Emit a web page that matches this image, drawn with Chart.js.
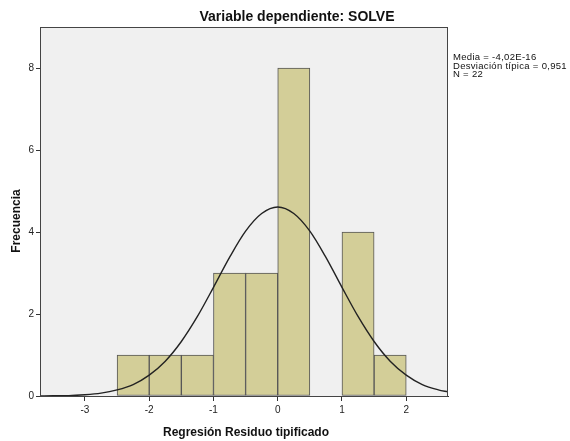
<!DOCTYPE html>
<html>
<head>
<meta charset="utf-8">
<script src="https://cdn.jsdelivr.net/npm/chart.js@4"></script>
<style>
  html, body { margin: 0; padding: 0; background: #fff; }
  #wrap { width: 570px; height: 441px; }
</style>
</head>
<body>
<div id="wrap"><canvas id="histChart" width="570" height="441"></canvas></div>
<script>
// Histogram bins (centre of each 0.5 wide bin) and counts
const binCenters = [-2.25, -1.75, -1.25, -0.75, -0.25, 0.25, 0.75, 1.25, 1.75];
const binCounts  = [1, 1, 1, 3, 3, 8, 0, 4, 1];

// Normal curve
const curveX = [-3.7, -3.5, -3.25, -3, -2.75, -2.5, -2.25, -2, -1.75, -1.5, -1.25, -1, -0.75, -0.5, -0.25,
                0, 0.25, 0.5, 0.75, 1, 1.25, 1.5, 1.75, 2, 2.25, 2.5, 2.65];
const curveY = [0.00, 0.01, 0.01, 0.03, 0.07, 0.15, 0.28, 0.51, 0.85, 1.33, 1.94, 2.65, 3.38, 4.02, 4.45,
                4.61, 4.45, 4.02, 3.38, 2.65, 1.94, 1.33, 0.85, 0.51, 0.28, 0.15, 0.10];

const xTicks = [-3, -2, -1, 0, 1, 2];
const yTicks = [0, 2, 4, 6, 8];

const titleText = 'Variable dependiente: SOLVE';
const xTitle = 'Regresión Residuo tipificado';
const yTitle = 'Frecuencia';
const statsLines = ['Media = -4,02E-16', 'Desviación típica = 0,951', 'N = 22'];

const FONT = '"Liberation Sans", Arial, sans-serif';

// background of plot area, frame and the texts
const decorPlugin = {
    id: 'decor',
    beforeDraw(chart) {
        const { ctx, chartArea: a } = chart;
        ctx.save();
        ctx.fillStyle = '#f0f0f0';
        ctx.fillRect(a.left, a.top, a.right - a.left, a.bottom - a.top);
        ctx.restore();
    },
    afterDraw(chart) {
        const { ctx, chartArea: a } = chart;
        ctx.save();
        ctx.strokeStyle = '#444';
        ctx.lineWidth = 1;
        ctx.strokeRect(a.left + 0.5, a.top + 0.5, a.right - a.left - 1, a.bottom - a.top);

        ctx.fillStyle = '#111';
        ctx.textAlign = 'center';
        ctx.textBaseline = 'alphabetic';
        ctx.font = 'bold 14px ' + FONT;
        ctx.fillText(titleText, 297, 21);

        ctx.font = 'bold 12px ' + FONT;
        ctx.fillText(xTitle, 246, 436);

        ctx.save();
        ctx.translate(20, 221);
        ctx.rotate(-Math.PI / 2);
        ctx.fillText(yTitle, 0, 0);
        ctx.restore();

        ctx.textAlign = 'left';
        ctx.font = '9.5px ' + FONT;
        ctx.letterSpacing = '0.3px';
        statsLines.forEach((t, i) => ctx.fillText(t, 453, 60 + i * 8.5));
        ctx.restore();
    }
};

const ctx = document.getElementById('histChart');
new Chart(ctx, {
    type: 'bar',
    data: {
        datasets: [{
            type: 'line',
            data: curveX.map((x, i) => ({ x: x, y: curveY[i] })),
            borderColor: '#222',
            borderWidth: 1.4,
            pointRadius: 0,
            fill: false,
            cubicInterpolationMode: 'monotone',
            order: 0
        }, {
            type: 'bar',
            data: binCenters.map((x, i) => ({ x: x, y: binCounts[i] })),
            backgroundColor: '#d3ce98',
            borderColor: '#555',
            borderWidth: 1,
            borderSkipped: false,
            barPercentage: 1,
            categoryPercentage: 1,
            order: 1
        }]
    },
    options: {
        responsive: false,
        animation: false,
        layout: { padding: { left: 0, right: 122, top: 27, bottom: 0 } },
        plugins: {
            legend: { display: false },
            tooltip: { enabled: false }
        },
        scales: {
            x: {
                type: 'linear',
                min: -3.7,
                max: 2.65,
                offset: false,
                afterFit: s => { s.height = 45; },
                afterBuildTicks: s => { s.ticks = xTicks.map(v => ({ value: v })); },
                grid: { display: true, offset: false, drawOnChartArea: false, drawTicks: true, tickLength: 5, color: '#333' },
                border: { display: true, color: '#333' },
                ticks: { color: '#222', font: { family: FONT, size: 10 }, padding: 3 }
            },
            y: {
                min: 0,
                max: 9,
                afterFit: s => { s.width = 40; },
                afterBuildTicks: s => { s.ticks = yTicks.map(v => ({ value: v })); },
                grid: { display: true, drawOnChartArea: false, drawTicks: true, tickLength: 4, color: '#333' },
                border: { display: true, color: '#333' },
                ticks: { color: '#222', font: { family: FONT, size: 10 }, padding: 2 }
            }
        }
    },
    plugins: [decorPlugin]
});
</script>
</body>
</html>
